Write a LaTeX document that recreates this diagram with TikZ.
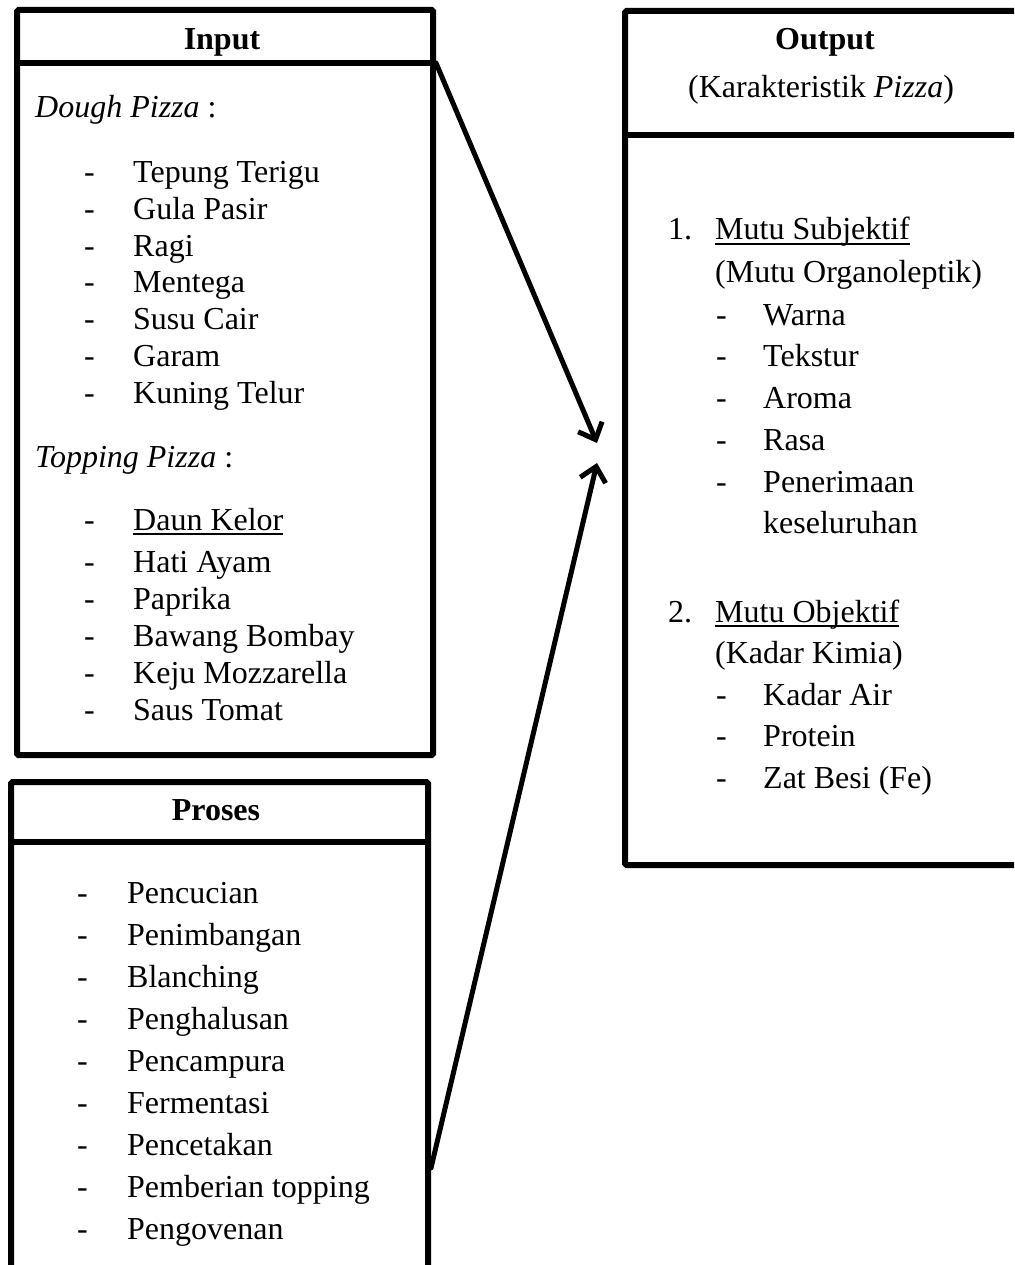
\documentclass[tikz,border=0pt]{standalone}
\usepackage{fontspec}
\setmainfont{Liberation Serif}
\usetikzlibrary{arrows.meta}
\newcommand\fsz{\fontsize{32}{38}\selectfont}
\newcommand\myul[1]{\setbox0\hbox{#1}\rlap{\rule[-0.16em]{\wd0}{0.075em}}\box0}
\begin{document}
\begin{tikzpicture}[x=1pt,y=-1pt,
  box/.style={draw, line width=6pt, rounded corners=1.5pt, inner sep=0pt, anchor=north west},
  divider/.style={line width=6pt},
  txt/.style={anchor=base west, inner sep=0pt, font=\fsz},
  ctr/.style={anchor=base, inner sep=0pt, font=\fsz},
  flow/.style={line width=5pt, line cap=round, -{Straight Barb[length=14pt,width=26pt,line width=5pt]}}]
\clip (0,0) rectangle (1014,1265);
\fill[white] (0,0) rectangle (1014,1265);

% boxes
\node[box, minimum width=416pt, minimum height=745pt] (input) at (14,7) {};
\node[box, minimum width=417pt, minimum height=520pt] (proses) at (8,779) {};
\node[box, minimum width=410pt, minimum height=854pt] (output) at (622,8) {};

% header dividers
\coordinate (indivR) at (input.east |- 0,63);
\draw[divider] (input.west |- 0,63) -- (indivR);
\draw[divider] (proses.west |- 0,842) -- (proses.east |- 0,842);
\draw[divider] (output.west |- 0,135) -- (output.east |- 0,135);

% headers
\node[ctr, font=\fsz\bfseries] (inputT) at (222,50) {Input};
\node[ctr, font=\fsz\bfseries] (prosesT) at (216,820) {Proses};
\node[ctr, font=\fsz\bfseries] (outputT) at (825,50) {Output};
\node[txt] (outputS) at (688,98) {(Karakteristik \textit{Pizza})};

% input box
\node[txt] (dough) at (35,118) {\textit{Dough Pizza} :};
\foreach \t [count=\i] in {Tepung Terigu, Gula Pasir, Ragi, Mentega, Susu Cair, Garam, Kuning Telur} {
  \node[txt] (dd\i) at (84,{182.5+36.8*(\i-1)}) {-};
  \node[txt] (d\i) at (133,{182.5+36.8*(\i-1)}) {\t};
}
\node[txt] (topping) at (35,467) {\textit{Topping Pizza} :};
\node[txt] (td0) at (84,530) {-};
\node[txt] (t0) at (133,530) {\myul{Daun Kelor}};
\foreach \t [count=\i] in {Hati Ayam, Paprika, Bawang Bombay, Keju Mozzarella, Saus Tomat} {
  \node[txt] (td\i) at (84,{572+37*(\i-1)}) {-};
  \node[txt] (t\i) at (133,{572+37*(\i-1)}) {\t};
}

% proses box
\foreach \t [count=\i] in {Pencucian, Penimbangan, Blanching, Penghalusan, Pencampura, Fermentasi, Pencetakan, Pemberian topping, Pengovenan} {
  \node[txt] (pd\i) at (77,{903+42*(\i-1)}) {-};
  \node[txt] (p\i) at (127,{903+42*(\i-1)}) {\t};
}

% output box
\node[txt] (n1) at (668,240) {1.};
\node[txt] (m1) at (715,240) {\myul{Mutu Subjektif}};
\node[txt] (m1s) at (715,282) {(Mutu Organoleptik)};
\foreach \t [count=\i] in {Warna, Tekstur, Aroma, Rasa, Penerimaan} {
  \node[txt] (sd\i) at (716,{325+41.8*(\i-1)}) {-};
  \node[txt] (s\i) at (763,{325+41.8*(\i-1)}) {\t};
}
\node[txt] (s6) at (763,533) {keseluruhan};
\node[txt] (n2) at (668,622) {2.};
\node[txt] (m2) at (715,622) {\myul{Mutu Objektif}};
\node[txt] (m2s) at (715,663) {(Kadar Kimia)};
\foreach \t [count=\i] in {Kadar Air, Protein, Zat Besi (Fe)} {
  \node[txt] (od\i) at (716,{705+41.5*(\i-1)}) {-};
  \node[txt] (o\i) at (763,{705+41.5*(\i-1)}) {\t};
}

% arrows
\coordinate (tip1) at (597,443);
\coordinate (tip2) at (597,463);
\coordinate (pr) at (proses.east |- 0,1168);
\draw[flow] (indivR) -- (tip1);
\draw[flow] (pr) -- (tip2);
\end{tikzpicture}
\end{document}
